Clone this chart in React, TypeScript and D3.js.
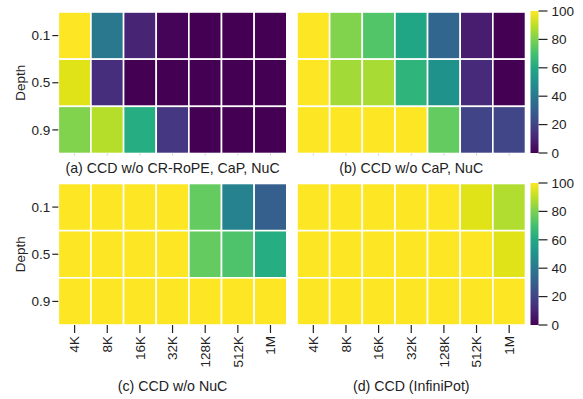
import * as d3 from 'd3'

const lengths = ['4K', '8K', '16K', '32K', '128K', '512K', '1M']
const depths = ['0.1', '0.5', '0.9']
const cbTicks = [0, 20, 40, 60, 80, 100]

const panelA = [
  [100, 40, 10, 1, 0, 0, 0],
  [95, 13, 0, 0, 0, 0, 0],
  [81, 89, 62, 16, 0, 0, 0],
]
const panelB = [
  [100, 81, 73, 59, 33, 8, 0],
  [100, 86, 87, 65, 51, 12, 0],
  [100, 100, 100, 100, 76, 20, 21],
]
const panelC = [
  [100, 100, 100, 100, 76, 44, 30],
  [100, 100, 100, 100, 76, 72, 62],
  [100, 100, 100, 100, 100, 100, 100],
]
const panelD = [
  [100, 100, 100, 100, 100, 95, 88],
  [100, 100, 100, 100, 100, 100, 95],
  [100, 100, 100, 100, 100, 100, 100],
]
const titles = [
  '(a) CCD w/o CR-RoPE, CaP, NuC',
  '(b) CCD w/o CaP, NuC',
  '(c) CCD w/o NuC',
  '(d) CCD (InfiniPot)',
]

const font = 'Liberation Sans, Arial, sans-serif'
const color = d3.scaleSequential(d3.interpolateViridis).domain([0, 100])

interface PanelProps {
  left: number
  top: number
  data: number[][]
  title: string
  showY: boolean
  showX: boolean
}

function Panel({ left, top, data, title, showY, showX }: PanelProps) {
  const w = 228.5
  const h = 141.5
  const x = d3.scaleBand<string>().domain(lengths).range([left, left + w])
  const y = d3.scaleBand<string>().domain(depths).range([top, top + h])
  return (
    <g>
      {data.map((row, i) =>
        row.map((v, j) => (
          <rect
            key={`${i}-${j}`}
            x={x(lengths[j])!}
            y={y(depths[i])!}
            width={x.bandwidth()}
            height={y.bandwidth()}
            fill={color(v)}
            stroke="#fff"
            strokeWidth={1.6}
          />
        ))
      )}
      {showY &&
        depths.map(d => (
          <g key={d}>
            <line x1={left - 6} x2={left} y1={y(d)! + y.bandwidth() / 2} y2={y(d)! + y.bandwidth() / 2} stroke="#222" strokeWidth={1.2} />
            <text x={left - 8} y={y(d)! + y.bandwidth() / 2} dy="0.35em" textAnchor="end" fontSize={13.5} fill="#222">{d}</text>
          </g>
        ))}
      {showY && (
        <text transform={`translate(20,${top + h / 2}) rotate(-90)`} dy="0.35em" textAnchor="middle" fontSize={13.5} fill="#222">Depth</text>
      )}
      {lengths.map(l => {
        const cx = x(l)! + x.bandwidth() / 2
        return showX ? (
          <g key={l}>
            <line x1={cx} x2={cx} y1={top + h} y2={top + h + 8} stroke="#222" strokeWidth={1.2} />
            <text transform={`translate(${cx},${top + h + 11}) rotate(-90)`} dy="0.35em" textAnchor="end" fontSize={13.5} fill="#222">{l}</text>
          </g>
        ) : (
          <line key={l} x1={cx} x2={cx} y1={top + h} y2={top + h + 2} stroke="#ccc" strokeWidth={1} />
        )
      })}
      <text x={left + w / 2} y={showX ? top + h + 61 : top + h + 15} dy="0.35em" textAnchor="middle" fontSize={14.2} fill="#222">{title}</text>
    </g>
  )
}

function Colorbar({ left, top, height, id }: { left: number; top: number; height: number; id: string }) {
  const y = d3.scaleLinear().domain([0, 100]).range([top + height, top])
  const stops = d3.range(0, 1.0001, 0.1)
  return (
    <g>
      <defs>
        <linearGradient id={id} x1="0" x2="0" y1="1" y2="0">
          {stops.map(s => (
            <stop key={s} offset={s} stopColor={d3.interpolateViridis(s)} />
          ))}
        </linearGradient>
      </defs>
      <rect x={left} y={top} width={8} height={height} fill={`url(#${id})`} />
      {cbTicks.map(t => (
        <g key={t}>
          <line x1={left + 8} x2={left + 17} y1={y(t)} y2={y(t)} stroke="#222" strokeWidth={1.2} />
          <text x={left + 21} y={y(t)} dy="0.35em" fontSize={13.5} fill="#222">{t}</text>
        </g>
      ))}
    </g>
  )
}

export default function App() {
  return (
    <svg width={583} height={399} style={{ position: 'absolute', left: 0, top: 0, fontFamily: font }}>
      <rect width={583} height={399} fill="#fff" />
      <Panel left={58.3} top={12} data={panelA} title={titles[0]} showY showX={false} />
      <Panel left={297} top={12} data={panelB} title={titles[1]} showY={false} showX={false} />
      <Panel left={58.3} top={183.5} data={panelC} title={titles[2]} showY showX />
      <Panel left={297} top={183.5} data={panelD} title={titles[3]} showY={false} showX />
      <Colorbar left={530.5} top={11} height={142} id="cb1" />
      <Colorbar left={530.5} top={183} height={142} id="cb2" />
    </svg>
  )
}
